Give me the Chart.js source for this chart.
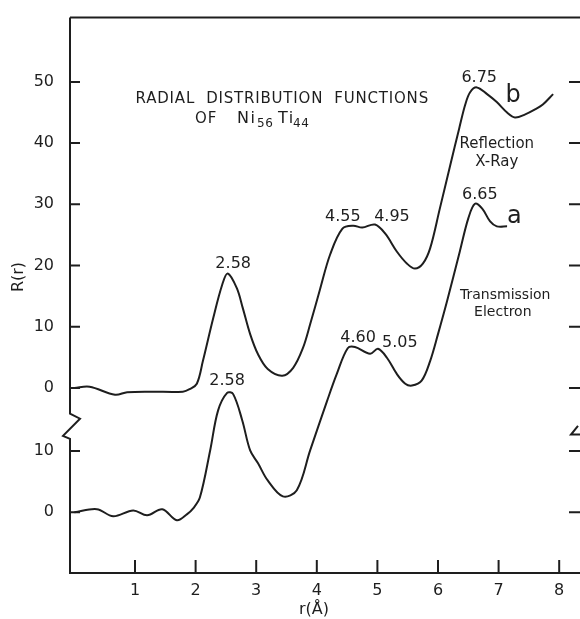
<!DOCTYPE html>
<html>
<head>
<meta charset="utf-8">
<script src="https://cdn.jsdelivr.net/npm/chart.js@4.4.1/dist/chart.umd.min.js"></script>
<style>
  html, body { margin: 0; padding: 0; background: #fff; }
</style>
</head>
<body>
<canvas id="rdf" width="580" height="619"></canvas>
<script>
// curve b - reflection x-ray (r in Angstrom, R(r) on the upper scale)
const rXray = [0, 0.25, 0.67, 0.87, 1.25, 1.79, 1.9, 2.02, 2.12, 2.29, 2.44, 2.53, 2.68, 2.78, 2.90,
  3.03, 3.19, 3.43, 3.61, 3.77, 3.89, 4.05, 4.22, 4.42, 4.60, 4.75, 4.96, 5.13, 5.32, 5.49, 5.62,
  5.75, 5.87, 6.03, 6.2, 6.35, 6.45, 6.53, 6.64, 6.81, 6.97, 7.14, 7.27, 7.44, 7.60, 7.73, 7.90];
const rdfXray = [0, 0.2, -1.1, -0.7, -0.6, -0.6, -0.2, 0.7, 4.4, 11.4, 16.9, 18.7, 16.3, 13.0, 8.8,
  5.5, 3.1, 2.0, 3.3, 6.5, 10.4, 16.0, 21.8, 26.0, 26.5, 26.2, 26.7, 25.2, 22.3, 20.3, 19.5,
  20.3, 22.8, 29.3, 36.3, 42.4, 46.3, 48.3, 49.1, 48.0, 46.7, 45.0, 44.2, 44.7, 45.5, 46.3, 48.0];

// curve a - transmission electron (lower scale)
const rElec = [0, 0.37, 0.64, 0.97, 1.20, 1.45, 1.69, 1.86, 1.96, 2.07, 2.24, 2.37, 2.52, 2.62,
  2.77, 2.90, 3.03, 3.19, 3.44, 3.67, 3.89, 4.17, 4.33, 4.51, 4.63, 4.88, 5.01, 5.16, 5.32, 5.46,
  5.57, 5.73, 5.87, 6.00, 6.15, 6.36, 6.50, 6.61, 6.73, 6.86, 6.97, 7.14];
const rdfElec = [0, 0.5, -0.65, 0.3, -0.5, 0.5, -1.3, -0.3, 0.65, 2.4, 10.1, 16.6, 19.5, 19.3,
  15.0, 10.1, 8.0, 5.2, 2.6, 3.6, 10.1, 18.2, 22.6, 26.8, 27.0, 25.9, 26.7, 25.2, 22.6, 21.0,
  20.7, 21.5, 24.7, 29.1, 34.5, 42.6, 48.0, 50.4, 49.6, 47.5, 46.7, 46.7];

const xTicks = [1, 2, 3, 4, 5, 6, 7, 8];
const upperTicks = [0, 10, 20, 30, 40, 50];
const lowerTicks = [0, 10];

const xrayShift = 20.3;   // the upper curve sits this far above the lower one
const ink = '#1e1e1e';
const face = '"DejaVu Sans", sans-serif';

// labels placed in data units (r, plotted y)
const notes = [
  { t: '2.58', r: 2.62, y: 40.6, size: 16 },
  { t: '2.58', r: 2.52, y: 21.5, size: 16 },
  { t: '4.55', r: 4.43, y: 48.3, size: 16 },
  { t: '4.95', r: 5.24, y: 48.3, size: 16 },
  { t: '4.60', r: 4.68, y: 28.5, size: 16 },
  { t: '5.05', r: 5.37, y: 27.6, size: 16 },
  { t: '6.75', r: 6.68, y: 70.9, size: 16 },
  { t: '6.65', r: 6.69, y: 51.9, size: 16 },
  { t: 'b', r: 7.24, y: 68.1, size: 24 },
  { t: 'a', r: 7.26, y: 48.3, size: 24 },
  { t: 'Reflection', r: 6.97, y: 60.2, size: 15 },
  { t: 'X-Ray', r: 6.97, y: 57.2, size: 15 },
  { t: 'Transmission', r: 7.11, y: 35.4, size: 14 },
  { t: 'Electron', r: 7.07, y: 32.7, size: 14 }
];

const framePlugin = {
  id: 'frame',
  afterDraw(chart) {
    const ctx = chart.ctx;
    const xs = chart.scales.x, ys = chart.scales.y;
    const a = chart.chartArea;
    const px = v => xs.getPixelForValue(v);
    const py = v => ys.getPixelForValue(v);
    ctx.save();
    ctx.strokeStyle = ink;
    ctx.lineWidth = 2;

    // top border
    ctx.beginPath();
    ctx.moveTo(a.left, a.top);
    ctx.lineTo(580, a.top);
    ctx.stroke();

    // left axis with break
    const b1 = py(16.1), b2 = py(12.0);
    ctx.beginPath();
    ctx.moveTo(a.left, a.top);
    ctx.lineTo(a.left, b1);
    ctx.lineTo(a.left + 10, b1 + 5);
    ctx.lineTo(a.left - 7, b2 - 3);
    ctx.lineTo(a.left, b2);
    ctx.lineTo(a.left, a.bottom + 1);
    ctx.stroke();

    // inward ticks left / right
    const yt = lowerTicks.concat(upperTicks.map(v => v + xrayShift));
    yt.forEach(v => {
      const y = py(v);
      ctx.beginPath();
      ctx.moveTo(a.left, y); ctx.lineTo(a.left + 10, y);
      ctx.moveTo(569, y); ctx.lineTo(580, y);
      ctx.stroke();
    });
    // right break mark
    ctx.beginPath();
    ctx.moveTo(578, py(14.1));
    ctx.lineTo(571, py(12.7));
    ctx.lineTo(580, py(12.7));
    ctx.stroke();

    // inward ticks bottom
    xTicks.forEach(v => {
      const x = px(v);
      ctx.beginPath();
      ctx.moveTo(x, a.bottom); ctx.lineTo(x, a.bottom - 13);
      ctx.stroke();
    });

    // texts
    ctx.fillStyle = ink;
    ctx.textAlign = 'center';
    ctx.textBaseline = 'middle';
    notes.forEach(n => {
      ctx.font = n.size + 'px ' + face;
      ctx.fillText(n.t, px(n.r), py(n.y));
    });

    ctx.font = '15px ' + face;
    ctx.letterSpacing = '0.8px';
    ctx.fillText('RADIAL  DISTRIBUTION  FUNCTIONS', px(3.43), py(67.5));

    ctx.textAlign = 'left';
    const ly = py(64.3);
    ctx.letterSpacing = '1px';
    ctx.fillText('OF', 195, ly);
    ctx.font = '16px ' + face;
    ctx.letterSpacing = '1.5px';
    ctx.fillText('Ni', 237, ly);
    ctx.fillText('Ti', 278, ly);
    ctx.font = '12px ' + face;
    ctx.letterSpacing = '0.5px';
    ctx.fillText('56', 257, ly + 5);
    ctx.fillText('44', 293, ly + 5);

    // axis titles
    ctx.letterSpacing = '0px';
    ctx.font = '16px ' + face;
    ctx.textAlign = 'center';
    ctx.fillText('r(Å)', 314, 610);
    ctx.translate(19, 277);
    ctx.rotate(-Math.PI / 2);
    ctx.fillText('R(r)', 0, 0);
    ctx.restore();
  }
};

new Chart(document.getElementById('rdf'), {
  type: 'line',
  data: {
    datasets: [
      {
        label: 'Reflection X-Ray',
        data: rXray.map((r, i) => ({ x: r, y: rdfXray[i] + xrayShift })),
        borderColor: ink, borderWidth: 2, pointRadius: 0,
        tension: 0.35, fill: false
      },
      {
        label: 'Transmission Electron',
        data: rElec.map((r, i) => ({ x: r, y: rdfElec[i] })),
        borderColor: ink, borderWidth: 2, pointRadius: 0,
        tension: 0.35, fill: false
      }
    ]
  },
  options: {
    responsive: false,
    animation: false,
    layout: { padding: { top: 15, right: 1, left: 0, bottom: 0 } },
    plugins: { legend: { display: false }, tooltip: { enabled: false } },
    scales: {
      x: {
        type: 'linear',
        min: -0.073, max: 8.327,
        afterBuildTicks: s => { s.ticks = xTicks.map(v => ({ value: v })); },
        afterFit: s => { s.height = 46; },
        grid: { display: false },
        border: { display: true, color: ink, width: 2 },
        ticks: { color: ink, font: { family: face, size: 16 }, padding: 0 }
      },
      y: {
        type: 'linear',
        min: -9.92, max: 80.8,
        afterBuildTicks: s => {
          s.ticks = lowerTicks.map(v => ({ value: v }))
            .concat(upperTicks.map(v => ({ value: v + xrayShift })));
        },
        afterFit: s => { s.width = 70; },
        grid: { display: false },
        border: { display: false },
        ticks: {
          color: ink, font: { family: face, size: 16 }, padding: 8,
          callback: v => v > xrayShift - 0.5 ? Math.round(v - xrayShift) : v
        }
      }
    }
  },
  plugins: [framePlugin]
});
</script>
</body>
</html>
